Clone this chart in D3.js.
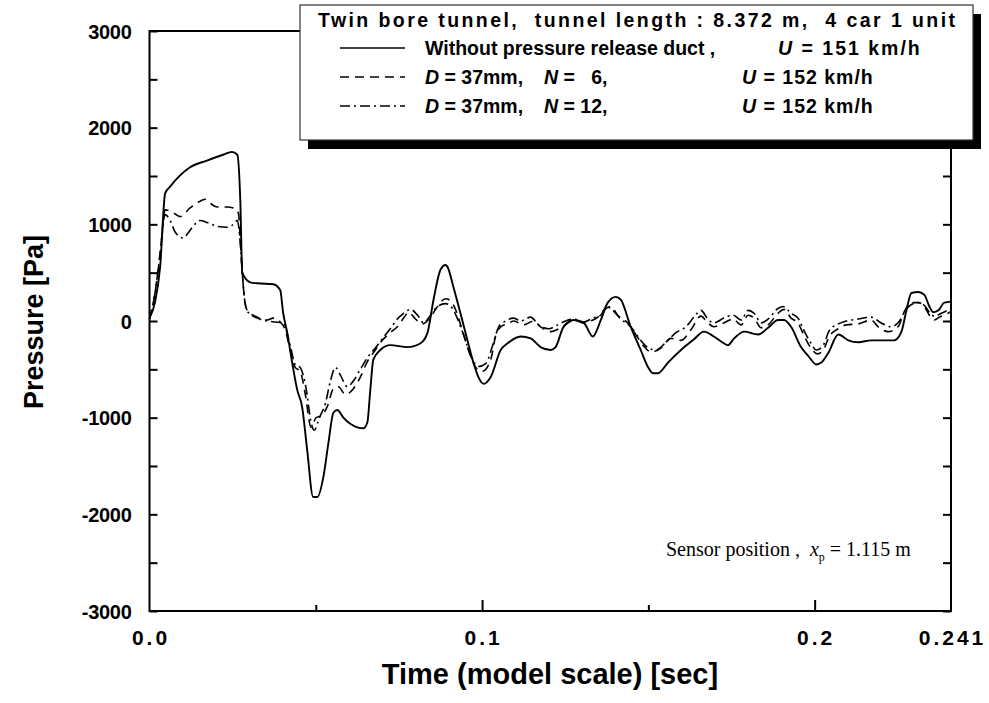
<!DOCTYPE html>
<html>
<head>
<meta charset="utf-8">
<script src="https://cdn.jsdelivr.net/npm/d3@7"></script>
<style>
  body { margin: 0; background: #fff; }
  svg { display: block; font-family: "Liberation Sans", Arial, sans-serif; }
  text { white-space: pre; fill: #000; }
</style>
</head>
<body>
<div id="chart"></div>
<script>
// time [s], pressure [Pa]
var noDuct = [
  [0, 30], [0.0017, 200], [0.0032, 560], [0.0047, 1320], [0.0062, 1390], [0.0122, 1590], [0.0173, 1660],
  [0.0221, 1720], [0.0248, 1750], [0.0264, 1720], [0.0273, 1250], [0.0279, 500], [0.0303, 400], [0.0324, 390],
  [0.0372, 380], [0.0393, 320], [0.0402, 80], [0.0414, -120], [0.0429, -430], [0.0444, -710], [0.0459, -890],
  [0.0474, -1330], [0.0492, -1820], [0.0505, -1820], [0.0523, -1610], [0.0538, -1260], [0.0553, -950],
  [0.0565, -920], [0.0583, -1000], [0.0625, -1100], [0.0643, -1110], [0.0655, -1050], [0.0664, -710],
  [0.0673, -400], [0.0694, -300], [0.0724, -250], [0.0776, -270], [0.0815, -230], [0.0836, -120], [0.0854, 220],
  [0.0875, 530], [0.0890, 580], [0.0896, 560], [0.0914, 350], [0.0935, 80], [0.0956, -200], [0.0974, -430],
  [0.0989, -580], [0.1005, -650], [0.1026, -580], [0.1056, -300], [0.1077, -230], [0.1116, -160], [0.1146, -180],
  [0.1176, -270], [0.1206, -300], [0.1221, -270], [0.1245, -60], [0.1276, 10], [0.1306, -20], [0.1333, -160],
  [0.1357, 10], [0.1378, 190], [0.1402, 250], [0.1417, 220], [0.1447, -60], [0.1477, -300], [0.1498, -470],
  [0.1514, -540], [0.1529, -540], [0.1559, -430], [0.1598, -300], [0.1637, -190], [0.1667, -110], [0.1697, -160],
  [0.1727, -230], [0.1739, -250], [0.1758, -180], [0.1788, -110], [0.1830, -140], [0.1860, -70], [0.1890, 10],
  [0.1908, 10], [0.1929, -60], [0.1959, -270], [0.1983, -370], [0.2005, -450], [0.2020, -430], [0.2041, -330],
  [0.2071, -140], [0.2101, -200], [0.2131, -220], [0.2170, -200], [0.2209, -200], [0.2239, -200], [0.2261, -110],
  [0.2276, 110], [0.2291, 290], [0.2312, 300], [0.2330, 270], [0.2345, 150], [0.2357, 90], [0.2372, 110],
  [0.2390, 190], [0.2410, 200]
];

var duct6 = [
  [0, 20], [0.0017, 300], [0.0032, 700], [0.0047, 1150], [0.0071, 1120], [0.0092, 1080], [0.0122, 1170],
  [0.0143, 1220], [0.0167, 1260], [0.0182, 1220], [0.0203, 1180], [0.0233, 1180], [0.0252, 1170], [0.0267, 1120],
  [0.0273, 850], [0.0279, 500], [0.0285, 250], [0.0294, 110], [0.0324, 40], [0.0354, 10], [0.0372, 30],
  [0.0393, -10], [0.0408, -90], [0.0423, -300], [0.0438, -480], [0.0453, -520], [0.0468, -750], [0.0486, -1100],
  [0.0501, -1000], [0.0517, -980], [0.0535, -880], [0.0553, -700], [0.0568, -680], [0.0589, -760], [0.0613, -700],
  [0.0634, -580], [0.0655, -420], [0.0673, -330], [0.0700, -200], [0.0724, -120], [0.0745, -60], [0.0764, 30],
  [0.0779, 90], [0.0800, 20], [0.0821, -30], [0.0845, 40], [0.0866, 150], [0.0890, 230], [0.0905, 210],
  [0.0920, 120], [0.0941, -100], [0.0965, -360], [0.0986, -500], [0.1001, -520], [0.1026, -400], [0.1041, -150],
  [0.1056, -60], [0.1077, -30], [0.1095, 0], [0.1125, -40], [0.1155, 0], [0.1176, -60], [0.1206, -110],
  [0.1236, -70], [0.1258, -20], [0.1276, 10], [0.1306, -20], [0.1327, 0], [0.1348, 40], [0.1366, 110],
  [0.1387, 150], [0.1408, 60], [0.1438, -20], [0.1468, -170], [0.1486, -260], [0.1508, -320], [0.1538, -280],
  [0.1568, -180], [0.1598, -200], [0.1628, -90], [0.1658, 50], [0.1679, -20], [0.1697, -60], [0.1727, -20],
  [0.1755, 20], [0.1779, -40], [0.1800, 60], [0.1818, 30], [0.1839, -70], [0.1860, -40], [0.1890, 80],
  [0.1908, 120], [0.1929, 30], [0.1950, -20], [0.1968, -150], [0.1989, -280], [0.2008, -340], [0.2026, -300],
  [0.2044, -160], [0.2071, -80], [0.2095, -40], [0.2131, -30], [0.2170, 10], [0.2191, -60], [0.2221, -110],
  [0.2251, -60], [0.2270, 100], [0.2291, 190], [0.2312, 190], [0.2330, 150], [0.2345, 60], [0.2360, 10],
  [0.2375, 40], [0.2396, 70], [0.2410, 100]
];

var duct12 = [
  [0, 20], [0.0017, 300], [0.0032, 700], [0.0047, 1100], [0.0062, 1040], [0.0077, 920], [0.0101, 860],
  [0.0116, 910], [0.0131, 980], [0.0152, 1040], [0.0173, 1020], [0.0203, 980], [0.0233, 970], [0.0248, 990],
  [0.0264, 1040], [0.0273, 800], [0.0279, 500], [0.0285, 250], [0.0294, 100], [0.0324, 30], [0.0354, 0],
  [0.0378, -10], [0.0402, -20], [0.0423, -250], [0.0438, -450], [0.0453, -480], [0.0471, -700], [0.0486, -1050],
  [0.0495, -1130], [0.0511, -1000], [0.0529, -850], [0.0544, -620], [0.0559, -480], [0.0574, -560], [0.0595, -680],
  [0.0613, -620], [0.0634, -500], [0.0655, -380], [0.0679, -280], [0.0703, -170], [0.0724, -80], [0.0745, 20],
  [0.0764, 80], [0.0785, 120], [0.0806, 60], [0.0824, -20], [0.0845, 60], [0.0866, 150], [0.0890, 180],
  [0.0911, 130], [0.0929, 0], [0.0950, -200], [0.0971, -400], [0.0989, -470], [0.1011, -440], [0.1032, -250],
  [0.1050, -60], [0.1071, 0], [0.1095, 30], [0.1116, 0], [0.1146, 40], [0.1170, -40], [0.1200, -80],
  [0.1227, -40], [0.1251, 0], [0.1276, 20], [0.1306, -10], [0.1333, 30], [0.1357, 60], [0.1375, 150],
  [0.1393, 110], [0.1417, 20], [0.1447, -60], [0.1477, -200], [0.1501, -280], [0.1523, -300], [0.1553, -220],
  [0.1583, -120], [0.1613, -60], [0.1637, 40], [0.1658, 110], [0.1679, 20], [0.1697, -20], [0.1727, 30],
  [0.1755, 60], [0.1779, 10], [0.1800, 110], [0.1818, 80], [0.1839, -20], [0.1860, 20], [0.1890, 130],
  [0.1905, 150], [0.1929, 80], [0.1950, 30], [0.1968, -100], [0.1989, -230], [0.2005, -300], [0.2026, -250],
  [0.2044, -100], [0.2071, -30], [0.2095, 0], [0.2131, 20], [0.2170, 40], [0.2200, -20], [0.2230, -60],
  [0.2255, 0], [0.2273, 110], [0.2291, 170], [0.2312, 190], [0.2330, 160], [0.2345, 90], [0.2360, 50],
  [0.2381, 80], [0.2410, 130]
];

var xTicks = [0, 0.1, 0.2, 0.241];
var xTickLabels = ["0.0", "0.1", "0.2", "0.241"];
var xMinorTicks = [0.05, 0.15];
var yTicks = [-3000, -2000, -1000, 0, 1000, 2000, 3000];
var yMinorTicks = [-2500, -1500, -500, 500, 1500, 2500];

var legendTitle = "Twin bore tunnel,  tunnel length : 8.372 m,  4 car 1 unit";
var legendName = "Without pressure release duct ,";
var legendD = ["", "37mm", "37mm"];
var legendN = ["", "  6", "12"];
var legendU = ["151", "152", "152"];

function init() {
    var w = 989, h = 703;
    var left = 149.5, right = 951, top = 31, bottom = 611;

    var svg = d3.select("#chart").append("svg")
        .attr("width", w)
        .attr("height", h)
        .attr("xml:space", "preserve");

    var xScale = d3.scaleLinear().domain([0, 0.241]).range([left, right]);
    var yScale = d3.scaleLinear().domain([-3000, 3000]).range([bottom, top]);

    //curves
    var line = d3.line()
        .x(d => xScale(d[0]))
        .y(d => yScale(d[1]))
        .curve(d3.curveMonotoneX);

    var dashes = [null, "9,6", "10,4,2,4"];
    [noDuct, duct6, duct12].forEach((s, i) => {
        svg.append("path")
            .datum(s)
            .attr("d", line)
            .attr("fill", "none")
            .attr("stroke", "#000")
            .attr("stroke-width", i === 0 ? 1.9 : 1.6)
            .attr("stroke-dasharray", dashes[i]);
    });

    //axes, ticks pointing inward
    svg.append("g").attr("transform", `translate(0,${bottom})`)
        .call(d3.axisBottom(xScale).tickValues(xTicks.slice(1, 3)).tickSize(-11).tickFormat(""));
    svg.append("g").attr("transform", `translate(0,${bottom})`)
        .call(d3.axisBottom(xScale).tickValues(xMinorTicks).tickSize(-6).tickFormat(""));
    svg.append("g").attr("transform", `translate(0,${top})`)
        .call(d3.axisTop(xScale).tickValues(xTicks.slice(1, 3)).tickSize(-11).tickFormat(""));
    svg.append("g").attr("transform", `translate(0,${top})`)
        .call(d3.axisTop(xScale).tickValues(xMinorTicks).tickSize(-6).tickFormat(""));
    svg.append("g").attr("transform", `translate(${left},0)`)
        .call(d3.axisLeft(yScale).tickValues(yTicks.concat(yMinorTicks)).tickSize(-8).tickFormat(""));
    svg.append("g").attr("transform", `translate(${right},0)`)
        .call(d3.axisRight(yScale).tickValues(yTicks.concat(yMinorTicks)).tickSize(-8).tickFormat(""));
    svg.selectAll(".domain").remove();
    svg.selectAll(".tick line").attr("stroke", "#000").attr("stroke-width", 2);

    svg.append("rect")
        .attr("x", left).attr("y", top)
        .attr("width", right - left).attr("height", bottom - top)
        .attr("fill", "none").attr("stroke", "#000").attr("stroke-width", 2);

    //tick labels
    svg.selectAll(".xlab").data(xTicks).enter().append("text")
        .attr("x", d => xScale(d) + 1.5)
        .attr("y", bottom + 34)
        .attr("text-anchor", "middle")
        .style("font-size", "21px").style("font-weight", "bold")
        .style("letter-spacing", "3px")
        .text((d, i) => xTickLabels[i]);

    svg.selectAll(".ylab").data(yTicks).enter().append("text")
        .attr("x", left - 18)
        .attr("y", d => yScale(d) + 7.5)
        .attr("text-anchor", "end")
        .style("font-size", "20px").style("font-weight", "bold")
        .style("letter-spacing", "-0.3px")
        .text(d => d);

    //axis titles
    svg.append("text")
        .attr("x", 550).attr("y", 684)
        .attr("text-anchor", "middle")
        .style("font-size", "29px").style("font-weight", "bold")
        .text("Time (model scale) [sec]");

    svg.append("text")
        .attr("transform", "rotate(-90)")
        .attr("x", -322).attr("y", 43)
        .attr("text-anchor", "middle")
        .style("font-size", "27px").style("font-weight", "bold")
        .text("Pressure [Pa]");

    //sensor note
    var note = svg.append("text")
        .attr("x", 666).attr("y", 556)
        .style("font-family", "'Liberation Serif', 'Times New Roman', serif")
        .style("font-size", "20px");
    note.append("tspan").text("Sensor position ,  ");
    note.append("tspan").style("font-style", "italic").text("x");
    note.append("tspan").attr("dy", 5).style("font-size", "12px").text("p");
    note.append("tspan").attr("dy", -5).text(" = 1.115 m");

    //legend box with shadow
    var lx = 300, ly = 5, lw = 673, lh = 135;
    svg.append("rect").attr("x", lx + 8).attr("y", ly + 9).attr("width", lw).attr("height", lh).attr("fill", "#000");
    svg.append("rect").attr("x", lx).attr("y", ly).attr("width", lw).attr("height", lh)
        .attr("fill", "#fff").attr("stroke", "#333").attr("stroke-width", 1.2);

    var leg = svg.append("g").style("font-size", "19.5px").style("font-weight", "bold");
    leg.append("text").attr("x", 318).attr("y", 27)
        .attr("textLength", 637).attr("lengthAdjust", "spacing").text(legendTitle);

    var rowY = [48, 77, 106];
    var uX = [778, 742, 742];
    rowY.forEach((y, i) => {
        leg.append("line")
            .attr("x1", 340).attr("x2", 405).attr("y1", y).attr("y2", y)
            .attr("stroke", "#000").attr("stroke-width", 1.5)
            .attr("stroke-dasharray", dashes[i]);
        if (i === 0) {
            leg.append("text").attr("x", 425).attr("y", y + 7).text(legendName);
        } else {
            var t1 = leg.append("text").attr("x", 425).attr("y", y + 7);
            t1.append("tspan").style("font-style", "italic").text("D");
            t1.append("tspan").text(" = " + legendD[i] + ",");
            var t2 = leg.append("text").attr("x", 544).attr("y", y + 7);
            t2.append("tspan").style("font-style", "italic").text("N");
            t2.append("tspan").text(" = " + legendN[i] + ",");
        }
        var t3 = leg.append("text").attr("x", uX[i]).attr("y", y + 7)
            .style("letter-spacing", i === 0 ? "2px" : "1px");
        t3.append("tspan").style("font-style", "italic").text("U");
        t3.append("tspan").text(" = " + legendU[i] + " km/h");
    });
}

window.onload = init;
</script>
</body>
</html>
